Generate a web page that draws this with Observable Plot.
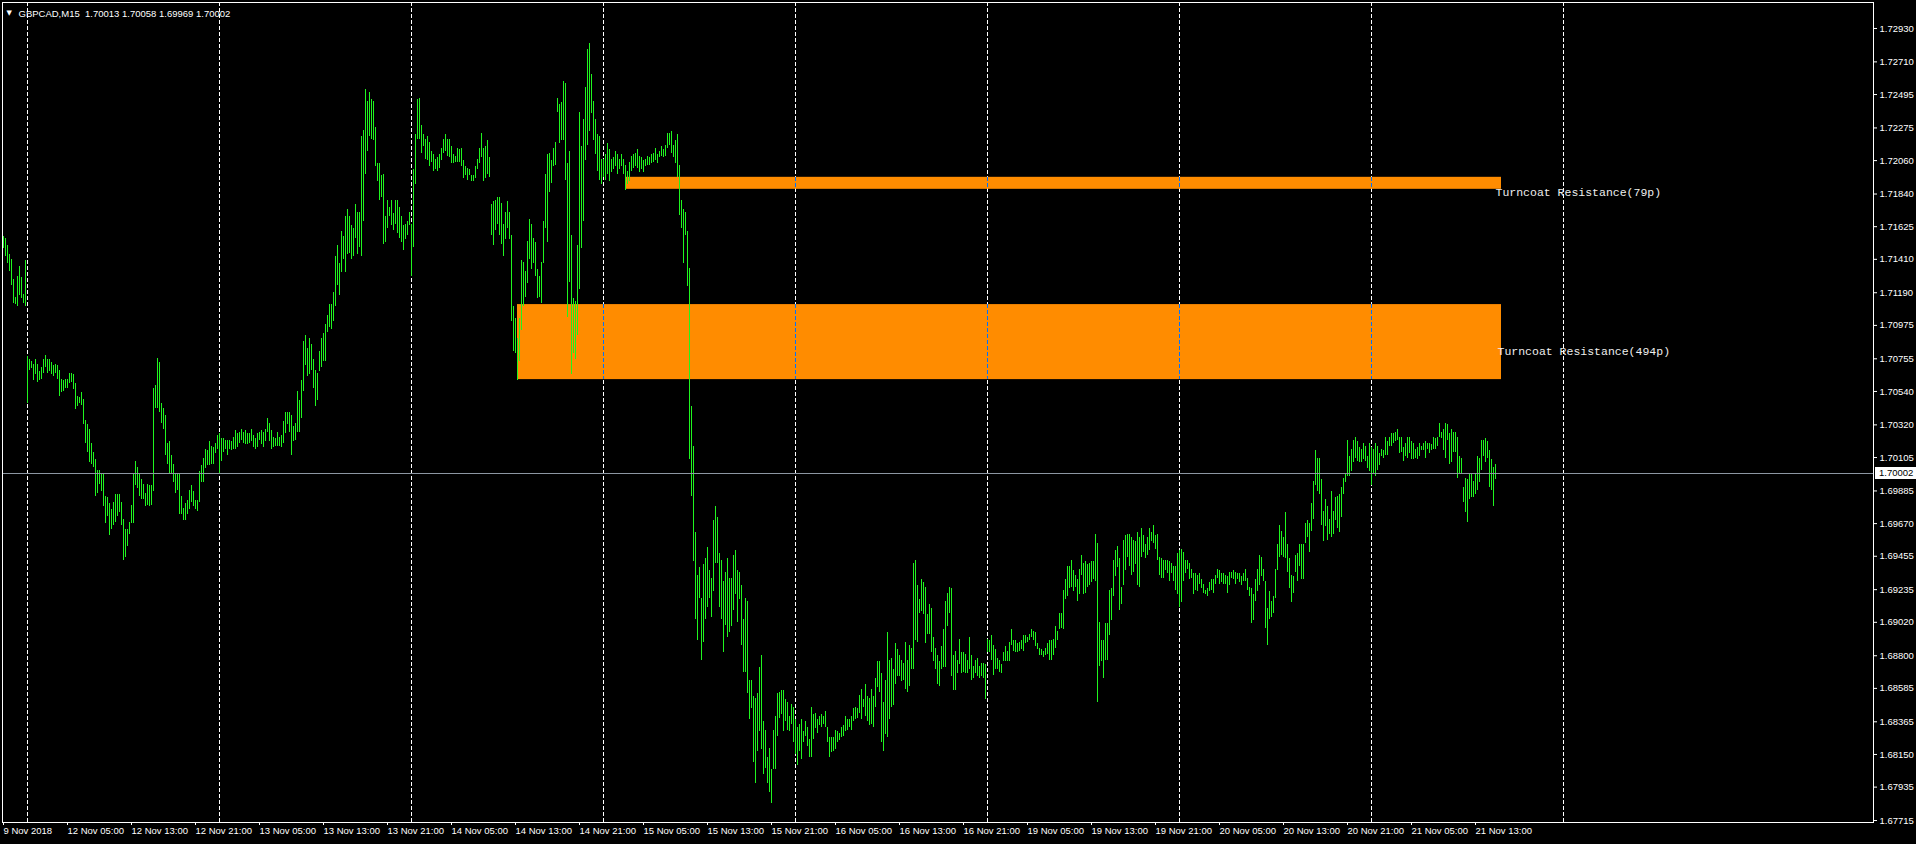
<!DOCTYPE html>
<html>
<head>
<meta charset="utf-8">
<style>
  html, body { margin: 0; padding: 0; background: #000; overflow: hidden; }
  svg { display: block; }
</style>
<script src="https://cdn.jsdelivr.net/npm/d3@7"></script>
<script src="https://cdn.jsdelivr.net/npm/@observablehq/plot@0.6"></script>
</head>
<body>
<div id="chart"></div>
<script>
// ---- Chart header ----
const symbolTitle = "GBPCAD,M15\u00a0\u00a01.70013 1.70058 1.69969 1.70002";
const lastClose = 1.70002;
const lastCloseLabel = "1.70002";

// ---- Time axis (bar index of each label) ----
const xTickBars = [0, 32, 64, 96, 128, 160, 192, 224, 256, 288, 320, 352, 384, 416, 448, 480, 512, 544, 576, 608, 640, 672, 704, 736];
const xTickLabels = ["9 Nov 2018", "12 Nov 05:00", "12 Nov 13:00", "12 Nov 21:00", "13 Nov 05:00", "13 Nov 13:00", "13 Nov 21:00", "14 Nov 05:00", "14 Nov 13:00", "14 Nov 21:00", "15 Nov 05:00", "15 Nov 13:00", "15 Nov 21:00", "16 Nov 05:00", "16 Nov 13:00", "16 Nov 21:00", "19 Nov 05:00", "19 Nov 13:00", "19 Nov 21:00", "20 Nov 05:00", "20 Nov 13:00", "20 Nov 21:00", "21 Nov 05:00", "21 Nov 13:00"];
const gridBars = [12, 108, 204, 300, 396, 492, 588, 684, 780];

// ---- Price axis ----
const yTickLabels = ["1.72930", "1.72710", "1.72495", "1.72275", "1.72060", "1.71840", "1.71625", "1.71410", "1.71190", "1.70975", "1.70755", "1.70540", "1.70320", "1.70105", "1.69885", "1.69670", "1.69455", "1.69235", "1.69020", "1.68800", "1.68585", "1.68365", "1.68150", "1.67935", "1.67715"];

// ---- Zones (Turncoat resistance rectangles) ----
const zoneNames = ["Turncoat Resistance(79p)", "Turncoat Resistance(494p)"];
const zoneStartBar = [311, 257];
const zoneEndBar = [749, 749];
const zoneTop = [1.71950, 1.71112];
const zoneBottom = [1.71871, 1.70618];
const zoneLabelBar = [746, 747];
const zoneLabelPrice = [1.71850, 1.70803];

// ---- M15 bar highs ----
const high = [
1.7156,1.7155,1.7150,1.7144,1.7141,1.7128,1.7116,1.7130,1.7136,1.7129,
1.7118,1.7140,1.7077,1.7075,1.7074,1.7072,1.7075,1.7072,1.7067,1.7070,
1.7075,1.7078,1.7075,1.7075,1.7073,1.7071,1.7072,1.7071,1.7068,1.7062,
1.7061,1.7062,1.7062,1.7066,1.7066,1.7065,1.7059,1.7051,1.7050,1.7053,
1.7049,1.7035,1.7032,1.7029,1.7020,1.7014,1.7009,1.7002,1.7002,1.7000,
1.6999,1.6985,1.6984,1.6980,1.6976,1.6981,1.6986,1.6986,1.6986,1.6981,
1.6970,1.6963,1.6963,1.6968,1.6979,1.7000,1.7008,1.7004,1.7000,1.6996,
1.6993,1.6987,1.6993,1.6992,1.6992,1.7056,1.7058,1.7076,1.7073,1.7046,
1.7043,1.7038,1.7020,1.7021,1.7012,1.7006,1.7000,1.7000,1.7000,1.6985,
1.6977,1.6980,1.6982,1.6989,1.6992,1.6988,1.6982,1.6982,1.7001,1.7005,
1.7010,1.7016,1.7015,1.7021,1.7018,1.7017,1.7020,1.7025,1.7026,1.7023,
1.7023,1.7022,1.7022,1.7022,1.7021,1.7024,1.7028,1.7026,1.7027,1.7029,
1.7027,1.7028,1.7026,1.7026,1.7029,1.7025,1.7023,1.7026,1.7027,1.7028,
1.7027,1.7029,1.7036,1.7033,1.7028,1.7024,1.7023,1.7027,1.7024,1.7025,
1.7034,1.7040,1.7040,1.7040,1.7038,1.7031,1.7033,1.7054,1.7048,1.7061,
1.7087,1.7091,1.7082,1.7089,1.7085,1.7075,1.7068,1.7066,1.7080,1.7089,
1.7092,1.7098,1.7104,1.7111,1.7111,1.7119,1.7143,1.7150,1.7138,1.7159,
1.7156,1.7169,1.7174,1.7169,1.7163,1.7161,1.7177,1.7172,1.7172,1.7222,
1.7226,1.7253,1.7245,1.7251,1.7246,1.7245,1.7228,1.7204,1.7204,1.7196,
1.7197,1.7169,1.7180,1.7175,1.7180,1.7171,1.7180,1.7180,1.7175,1.7169,
1.7163,1.7164,1.7166,1.7172,1.7164,1.7200,1.7223,1.7246,1.7247,1.7229,
1.7223,1.7220,1.7222,1.7218,1.7212,1.7210,1.7207,1.7208,1.7210,1.7214,
1.7220,1.7223,1.7220,1.7220,1.7215,1.7210,1.7209,1.7214,1.7213,1.7214,
1.7206,1.7202,1.7201,1.7200,1.7196,1.7196,1.7202,1.7207,1.7214,1.7224,
1.7214,1.7215,1.7219,1.7208,1.7177,1.7179,1.7180,1.7182,1.7182,1.7178,
1.7164,1.7172,1.7179,1.7172,1.7157,1.7110,1.7102,1.7089,1.7102,1.7140,
1.7139,1.7133,1.7153,1.7167,1.7164,1.7155,1.7152,1.7134,1.7130,1.7139,
1.7166,1.7197,1.7210,1.7211,1.7206,1.7214,1.7218,1.7247,1.7243,1.7244,
1.7258,1.7257,1.7204,1.7212,1.7157,1.7115,1.7113,1.7150,1.7238,1.7215,
1.7233,1.7254,1.7279,1.7283,1.7263,1.7245,1.7233,1.7223,1.7222,1.7207,
1.7207,1.7210,1.7217,1.7213,1.7207,1.7208,1.7212,1.7210,1.7207,1.7210,
1.7207,1.7203,1.7199,1.7205,1.7209,1.7210,1.7211,1.7213,1.7209,1.7208,
1.7206,1.7207,1.7209,1.7208,1.7210,1.7211,1.7214,1.7210,1.7212,1.7215,
1.7213,1.7216,1.7224,1.7224,1.7225,1.7216,1.7219,1.7223,1.7203,1.7180,
1.7174,1.7172,1.7159,1.7135,1.7044,1.7018,1.6961,1.6933,1.6938,1.6918,
1.6940,1.6944,1.6951,1.6936,1.6931,1.6969,1.6978,1.6971,1.6947,1.6943,
1.6929,1.6935,1.6944,1.6931,1.6931,1.6946,1.6949,1.6936,1.6935,1.6926,
1.6904,1.6918,1.6916,1.6864,1.6864,1.6853,1.6852,1.6855,1.6872,1.6880,
1.6837,1.6831,1.6813,1.6819,1.6805,1.6831,1.6840,1.6855,1.6856,1.6857,
1.6857,1.6851,1.6849,1.6840,1.6848,1.6846,1.6838,1.6833,1.6835,1.6838,
1.6830,1.6837,1.6833,1.6825,1.6846,1.6841,1.6842,1.6838,1.6840,1.6841,
1.6840,1.6843,1.6833,1.6826,1.6826,1.6826,1.6831,1.6830,1.6829,1.6833,
1.6834,1.6840,1.6838,1.6838,1.6840,1.6845,1.6846,1.6845,1.6854,1.6858,
1.6851,1.6861,1.6853,1.6852,1.6858,1.6853,1.6865,1.6876,1.6876,1.6868,
1.6849,1.6864,1.6895,1.6877,1.6878,1.6871,1.6888,1.6884,1.6880,1.6877,
1.6875,1.6889,1.6877,1.6887,1.6885,1.6941,1.6943,1.6926,1.6917,1.6930,
1.6928,1.6925,1.6907,1.6914,1.6911,1.6892,1.6885,1.6880,1.6876,1.6886,
1.6897,1.6916,1.6921,1.6925,1.6924,1.6880,1.6883,1.6877,1.6891,1.6882,
1.6882,1.6881,1.6877,1.6892,1.6880,1.6873,1.6877,1.6878,1.6873,1.6875,
1.6875,1.6874,1.6891,1.6890,1.6893,1.6887,1.6884,1.6878,1.6877,1.6874,
1.6882,1.6886,1.6883,1.6889,1.6897,1.6890,1.6890,1.6888,1.6889,1.6890,
1.6893,1.6893,1.6892,1.6894,1.6897,1.6896,1.6895,1.6888,1.6885,1.6884,
1.6883,1.6885,1.6888,1.6890,1.6890,1.6891,1.6899,1.6896,1.6908,1.6908,
1.6923,1.6930,1.6939,1.6939,1.6943,1.6936,1.6933,1.6930,1.6937,1.6946,
1.6941,1.6942,1.6940,1.6941,1.6942,1.6942,1.6960,1.6954,1.6902,1.6890,
1.6890,1.6901,1.6901,1.6923,1.6924,1.6943,1.6949,1.6952,1.6944,1.6925,
1.6956,1.6959,1.6960,1.6960,1.6958,1.6956,1.6955,1.6961,1.6958,1.6964,
1.6959,1.6953,1.6958,1.6964,1.6961,1.6966,1.6959,1.6960,1.6945,1.6944,
1.6943,1.6943,1.6943,1.6942,1.6941,1.6939,1.6939,1.6947,1.6949,1.6950,
1.6948,1.6943,1.6943,1.6941,1.6937,1.6934,1.6934,1.6933,1.6934,1.6930,
1.6927,1.6923,1.6924,1.6928,1.6930,1.6930,1.6933,1.6937,1.6936,1.6934,
1.6934,1.6933,1.6932,1.6935,1.6935,1.6936,1.6935,1.6934,1.6934,1.6932,
1.6934,1.6937,1.6931,1.6925,1.6924,1.6920,1.6930,1.6937,1.6946,1.6945,
1.6937,1.6929,1.6911,1.6922,1.6916,1.6919,1.6937,1.6953,1.6966,1.6962,
1.6958,1.6974,1.6953,1.6944,1.6933,1.6932,1.6946,1.6947,1.6953,1.6953,
1.6953,1.6967,1.6969,1.6967,1.6980,1.6995,1.7015,1.7010,1.7010,1.6996,
1.6975,1.6983,1.6978,1.6970,1.6988,1.6975,1.6984,1.6985,1.6986,1.6991,
1.6997,1.7000,1.7022,1.7011,1.7016,1.7022,1.7024,1.7021,1.7017,1.7016,
1.7020,1.7018,1.7011,1.7020,1.7017,1.7016,1.7020,1.7018,1.7013,1.7016,
1.7015,1.7024,1.7021,1.7024,1.7026,1.7026,1.7027,1.7029,1.7024,1.7024,
1.7017,1.7020,1.7024,1.7024,1.7021,1.7020,1.7016,1.7017,1.7020,1.7018,
1.7020,1.7021,1.7020,1.7020,1.7019,1.7024,1.7023,1.7024,1.7033,1.7027,
1.7029,1.7033,1.7032,1.7026,1.7029,1.7027,1.7027,1.7024,1.7011,1.7010,
1.6991,1.6997,1.6996,1.6999,1.7000,1.6995,1.6999,1.7011,1.7010,1.7022,
1.7022,1.7023,1.7021,1.7015,1.7009,1.7004,1.7006
];

// ---- M15 bar lows ----
const low = [
1.7148,1.7143,1.7138,1.7133,1.7124,1.7112,1.7111,1.7110,1.7117,1.7115,
1.7112,1.7110,1.7046,1.7068,1.7069,1.7061,1.7065,1.7060,1.7061,1.7062,
1.7066,1.7070,1.7066,1.7067,1.7065,1.7064,1.7066,1.7062,1.7051,1.7053,
1.7054,1.7056,1.7056,1.7059,1.7060,1.7055,1.7042,1.7044,1.7046,1.7045,
1.7032,1.7020,1.7014,1.7007,1.7006,1.7004,1.6985,1.6987,1.6993,1.6988,
1.6978,1.6967,1.6972,1.6959,1.6963,1.6966,1.6968,1.6972,1.6974,1.6966,
1.6943,1.6945,1.6952,1.6960,1.6967,1.6967,1.6992,1.6990,1.6985,1.6983,
1.6983,1.6978,1.6979,1.6978,1.6979,1.6988,1.7043,1.7043,1.7040,1.7033,
1.7029,1.7012,1.7006,1.7000,1.7000,1.6994,1.6987,1.6989,1.6973,1.6973,
1.6969,1.6969,1.6973,1.6976,1.6981,1.6978,1.6976,1.6975,1.6981,1.6994,
1.6994,1.7003,1.7005,1.7005,1.7006,1.7006,1.7013,1.7016,1.7000,1.7008,
1.7014,1.7016,1.7012,1.7016,1.7015,1.7016,1.7016,1.7017,1.7020,1.7022,
1.7020,1.7019,1.7019,1.7020,1.7021,1.7017,1.7016,1.7017,1.7022,1.7019,
1.7017,1.7021,1.7027,1.7021,1.7016,1.7017,1.7018,1.7018,1.7018,1.7017,
1.7020,1.7026,1.7032,1.7027,1.7012,1.7021,1.7022,1.7027,1.7027,1.7036,
1.7054,1.7071,1.7064,1.7065,1.7068,1.7056,1.7044,1.7048,1.7067,1.7070,
1.7074,1.7074,1.7093,1.7096,1.7095,1.7100,1.7110,1.7124,1.7117,1.7132,
1.7141,1.7132,1.7144,1.7145,1.7141,1.7143,1.7155,1.7144,1.7149,1.7143,
1.7166,1.7197,1.7212,1.7222,1.7220,1.7219,1.7202,1.7192,1.7180,1.7182,
1.7151,1.7152,1.7161,1.7169,1.7163,1.7160,1.7164,1.7158,1.7155,1.7152,
1.7147,1.7154,1.7157,1.7163,1.7130,1.7149,1.7190,1.7220,1.7220,1.7211,
1.7215,1.7207,1.7206,1.7202,1.7205,1.7199,1.7200,1.7199,1.7201,1.7206,
1.7211,1.7212,1.7209,1.7208,1.7204,1.7204,1.7205,1.7205,1.7205,1.7202,
1.7194,1.7196,1.7193,1.7196,1.7192,1.7192,1.7194,1.7200,1.7204,1.7208,
1.7192,1.7194,1.7197,1.7195,1.7157,1.7150,1.7160,1.7164,1.7157,1.7151,
1.7143,1.7154,1.7161,1.7154,1.7100,1.7080,1.7079,1.7061,1.7074,1.7094,
1.7110,1.7116,1.7125,1.7141,1.7134,1.7138,1.7130,1.7115,1.7116,1.7112,
1.7138,1.7161,1.7152,1.7185,1.7191,1.7202,1.7203,1.7238,1.7217,1.7219,
1.7219,1.7193,1.7103,1.7126,1.7065,1.7079,1.7075,1.7091,1.7121,1.7148,
1.7166,1.7206,1.7216,1.7225,1.7237,1.7219,1.7210,1.7199,1.7193,1.7190,
1.7195,1.7193,1.7197,1.7192,1.7198,1.7200,1.7202,1.7197,1.7200,1.7202,
1.7197,1.7186,1.7190,1.7192,1.7199,1.7201,1.7202,1.7201,1.7198,1.7200,
1.7198,1.7202,1.7203,1.7203,1.7204,1.7205,1.7206,1.7204,1.7208,1.7209,
1.7208,1.7209,1.7214,1.7216,1.7211,1.7208,1.7204,1.7195,1.7170,1.7161,
1.7138,1.7157,1.7123,1.7009,1.6985,1.6942,1.6904,1.6890,1.6918,1.6877,
1.6889,1.6904,1.6912,1.6918,1.6905,1.6922,1.6941,1.6941,1.6912,1.6904,
1.6882,1.6900,1.6892,1.6895,1.6899,1.6910,1.6920,1.6902,1.6917,1.6887,
1.6869,1.6869,1.6855,1.6838,1.6845,1.6810,1.6796,1.6817,1.6830,1.6818,
1.6802,1.6806,1.6796,1.6790,1.6783,1.6805,1.6805,1.6827,1.6839,1.6841,
1.6830,1.6837,1.6831,1.6830,1.6835,1.6823,1.6815,1.6808,1.6817,1.6812,
1.6823,1.6827,1.6820,1.6813,1.6813,1.6825,1.6832,1.6829,1.6834,1.6833,
1.6835,1.6833,1.6823,1.6813,1.6816,1.6817,1.6818,1.6823,1.6824,1.6826,
1.6827,1.6830,1.6831,1.6833,1.6831,1.6837,1.6838,1.6839,1.6842,1.6838,
1.6846,1.6840,1.6837,1.6834,1.6835,1.6833,1.6846,1.6859,1.6856,1.6823,
1.6817,1.6828,1.6826,1.6838,1.6846,1.6847,1.6861,1.6866,1.6866,1.6863,
1.6864,1.6858,1.6856,1.6860,1.6871,1.6871,1.6890,1.6889,1.6908,1.6909,
1.6907,1.6888,1.6894,1.6894,1.6882,1.6876,1.6871,1.6861,1.6860,1.6871,
1.6872,1.6872,1.6899,1.6908,1.6866,1.6857,1.6857,1.6868,1.6874,1.6868,
1.6869,1.6868,1.6868,1.6871,1.6864,1.6865,1.6868,1.6866,1.6865,1.6866,
1.6865,1.6851,1.6882,1.6882,1.6877,1.6867,1.6871,1.6871,1.6869,1.6868,
1.6876,1.6876,1.6876,1.6876,1.6887,1.6883,1.6882,1.6882,1.6883,1.6884,
1.6883,1.6888,1.6889,1.6890,1.6892,1.6890,1.6886,1.6884,1.6880,1.6880,
1.6879,1.6880,1.6881,1.6877,1.6877,1.6880,1.6885,1.6890,1.6897,1.6898,
1.6897,1.6917,1.6919,1.6924,1.6925,1.6922,1.6925,1.6916,1.6920,1.6933,
1.6920,1.6921,1.6925,1.6926,1.6928,1.6930,1.6929,1.6849,1.6873,1.6876,
1.6865,1.6877,1.6877,1.6893,1.6903,1.6919,1.6932,1.6938,1.6910,1.6914,
1.6926,1.6936,1.6945,1.6939,1.6933,1.6935,1.6940,1.6926,1.6925,1.6945,
1.6948,1.6944,1.6946,1.6949,1.6955,1.6954,1.6950,1.6943,1.6933,1.6931,
1.6931,1.6936,1.6934,1.6929,1.6934,1.6929,1.6923,1.6920,1.6912,1.6915,
1.6929,1.6934,1.6937,1.6930,1.6931,1.6920,1.6923,1.6922,1.6927,1.6924,
1.6921,1.6920,1.6919,1.6922,1.6923,1.6921,1.6927,1.6931,1.6927,1.6928,
1.6927,1.6927,1.6921,1.6926,1.6931,1.6930,1.6927,1.6930,1.6928,1.6926,
1.6929,1.6929,1.6923,1.6919,1.6901,1.6903,1.6916,1.6922,1.6926,1.6932,
1.6929,1.6898,1.6887,1.6904,1.6905,1.6908,1.6918,1.6936,1.6945,1.6946,
1.6945,1.6944,1.6935,1.6924,1.6915,1.6921,1.6935,1.6929,1.6939,1.6930,
1.6930,1.6954,1.6958,1.6948,1.6962,1.6970,1.6992,1.6988,1.6986,1.6966,
1.6955,1.6965,1.6956,1.6960,1.6958,1.6960,1.6969,1.6964,1.6961,1.6971,
1.6986,1.6994,1.6998,1.6998,1.7001,1.7007,1.7010,1.7008,1.7007,1.7007,
1.7009,1.7008,1.7003,1.7001,1.6992,1.7000,1.6998,1.7002,1.7005,1.7011,
1.7010,1.7012,1.7012,1.7018,1.7018,1.7020,1.7021,1.7022,1.7013,1.7014,
1.7008,1.7011,1.7010,1.7013,1.7009,1.7009,1.7010,1.7009,1.7011,1.7015,
1.7015,1.7010,1.7016,1.7013,1.7015,1.7016,1.7016,1.7018,1.7024,1.7023,
1.7015,1.7010,1.7022,1.7006,1.7007,1.7014,1.7014,1.6997,1.6999,1.6999,
1.6981,1.6974,1.6968,1.6983,1.6984,1.6984,1.6986,1.6989,1.6994,1.7002,
1.7011,1.7007,1.7010,1.6991,1.6989,1.6978,1.6996
];

// ---- Build tables for the library ----
const bars = high.map((h, i) => ({i, high: h, low: low[i]}));
const zones = zoneNames.map((name, k) => ({
  name, x1: zoneStartBar[k], x2: zoneEndBar[k], top: zoneTop[k], bottom: zoneBottom[k],
  lx: zoneLabelBar[k], ly: zoneLabelPrice[k]
}));
const gridOnZones = zones.flatMap(z => gridBars.filter(g => g >= z.x1 && g <= z.x2).map(g => ({g, top: z.top, bottom: z.bottom})));
const yTickValues = yTickLabels.map(Number);
const yLabelMap = new Map(yTickValues.map((v, k) => [v, yTickLabels[k]]));
const xLabelMap = new Map(xTickBars.map((b, k) => [b, xTickLabels[k]]));

const BAR = "#1ff51f";
const ORANGE = "#ff8c00";
const FONT = "'Liberation Sans', Arial, sans-serif";

// price tag box on the right axis, positioned with the y scale
function priceTag(index, scales, values, dims) {
  const y = Math.round(scales.y(lastClose));
  const x0 = dims.width - dims.marginRight + 2;
  const g = d3.create("svg:g");
  g.append("rect").attr("x", x0).attr("y", y - 6).attr("width", dims.width - x0).attr("height", 12).attr("fill", "#fff");
  g.append("text").attr("x", x0 + 4).attr("y", y).attr("dy", "0.35em").attr("text-anchor", "start")
    .attr("fill", "#000").attr("font-family", FONT).attr("font-size", "9.5px").text(lastCloseLabel);
  return g.node();
}

const chart = Plot.plot({
  width: 1916,
  height: 844,
  marginLeft: 2,
  marginRight: 43,
  marginTop: 2,
  marginBottom: 22,
  style: {background: "#000", color: "#fff", fontFamily: FONT, fontSize: "9.5px"},
  x: {type: "linear", domain: [-0.5, 935]},
  y: {type: "linear", domain: [1.67702, 1.73101]},
  marks: [
    // vertical dashed grid
    Plot.ruleX(gridBars, {x: d => d, stroke: "#fff", strokeDasharray: "4,2", shapeRendering: "crispEdges"}),
    // zones
    Plot.rect(zones, {x1: "x1", x2: "x2", y1: "top", y2: "bottom", fill: ORANGE}),
    Plot.ruleX(gridOnZones, {x: "g", y1: "top", y2: "bottom", stroke: "#0073ff", strokeDasharray: "4,2", shapeRendering: "crispEdges"}),
    // price bars
    Plot.ruleX(bars, {x: "i", y1: "low", y2: "high", stroke: BAR, strokeWidth: 1, shapeRendering: "crispEdges"}),
    // bid line
    Plot.ruleY([lastClose], {y: d => d, stroke: "#8c96a2", shapeRendering: "crispEdges"}),
    // zone labels
    Plot.text(zones, {x: "lx", y: "ly", text: "name", textAnchor: "start", fill: "#eeeeee",
      fontFamily: "'Liberation Mono', 'Courier New', monospace", fontSize: 11.5}),
    // frame
    Plot.frame({stroke: "#fff"}),
    // axes
    Plot.axisY({anchor: "right", ticks: yTickValues, tickFormat: d => yLabelMap.get(d), tickSize: 3, tickPadding: 3, label: null, fill: "#fff", stroke: "#fff"}),
    Plot.axisX({anchor: "bottom", ticks: xTickBars, tickFormat: d => xLabelMap.get(d), tickSize: 3, tickPadding: 2, textAnchor: "start", label: null, fill: "#fff", stroke: "#fff"}),
    priceTag,
    // header
    Plot.text(["\u25BC"], {frameAnchor: "top-left", dx: 4, dy: 8, textAnchor: "start", fill: "#fff", fontSize: 7, fontFamily: "'DejaVu Sans', sans-serif"}),
    Plot.text([symbolTitle], {frameAnchor: "top-left", dx: 16, dy: 8, textAnchor: "start", fill: "#fff", fontSize: 9.5})
  ]
});
document.getElementById("chart").appendChild(chart);
</script>
</body>
</html>
